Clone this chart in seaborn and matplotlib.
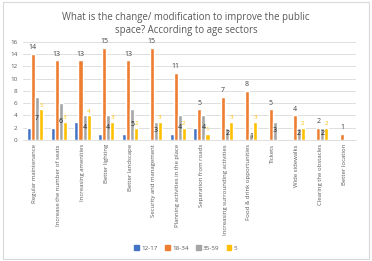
import pandas as pd
import seaborn as sns
import matplotlib.pyplot as plt
from matplotlib.patches import Rectangle

categories = [
    "Regular maintenance", "Increase the number of seats", "Increasing amenities",
    "Better lighting", "Better landscape", "Security and management",
    "Planning activities in the place", "Separation from roads",
    "Increasing surrounding activities", "Food & drink opportunities",
    "Tickets", "Wide sidewalks", "Clearing the obstacles", "Better location",
]
age_12_17 = [2, 2, 3, 1, 1, 0, 1, 2, 0, 0, 0, 0, 0, 0]
age_18_34 = [14, 13, 13, 15, 13, 15, 11, 5, 7, 8, 5, 4, 2, 1]
age_35_59 = [7, 6, 4, 4, 5, 3, 4, 4, 2, 1, 3, 2, 2, 0]
age_5 = [5, 3, 4, 3, 2, 3, 2, 1, 3, 3, 0, 2, 2, 0]
groups = ["12-17", "18-34", "35-59", "5"]
colors = ["#4472C4", "#ED7D31", "#A5A5A5", "#FFC000"]

rows = []
for g, vals in zip(groups, [age_12_17, age_18_34, age_35_59, age_5]):
    for c, v in zip(categories, vals):
        rows.append({"category": c, "group": g, "value": v})
df = pd.DataFrame(rows)

sns.set_style("white")
plt.rcParams['font.family'] = ['Open Sans', 'DejaVu Sans']

fig = plt.figure(figsize=(3.72, 2.61), dpi=100)
ax = fig.add_axes([0.062, 0.464, 0.895, 0.375])
sns.barplot(data=df, x="category", y="value", hue="group", order=categories,
            hue_order=groups, palette=colors, width=0.68, saturation=1,
            ax=ax, legend=False)

ax.set_ylim(0, 16)
ax.set_yticks(range(0, 17, 2))
ax.yaxis.grid(True, color="#D9D9D9", linewidth=0.6)
ax.set_axisbelow(True)
for s in ["top", "right", "left"]:
    ax.spines[s].set_visible(False)
ax.spines["bottom"].set_color("#D9D9D9")
ax.spines["bottom"].set_linewidth(0.6)
ax.set_xlabel("")
ax.set_ylabel("")
ax.tick_params(axis="y", labelsize=4.5, colors="#595959", length=0, pad=4)
ax.tick_params(axis="x", labelsize=4.3, colors="#595959", length=0, pad=3,
               labelrotation=90)

conts = ax.containers
ax.bar_label(conts[1], fontsize=5, color="#404040", padding=2)
ax.bar_label(conts[2], labels=[str(int(v)) if v > 0 else "" for v in age_35_59],
             label_type="center", fontsize=5, color="#262626")
ax.bar_label(conts[3], labels=[str(int(v)) if v > 0 else "" for v in age_5],
             fontsize=4.5, color="#FFC000", padding=1)

fig.text(0.5, 0.955, "What is the change/ modification to improve the public\nspace? According to age sectors",
         ha="center", va="top", fontsize=6.9, color="#595959", linespacing=1.3)

handles = [Rectangle((0, 0), 1, 1, color=c) for c in colors]
fig.legend(handles, groups, loc="center", bbox_to_anchor=(0.5, 0.05), ncol=4,
           frameon=False, fontsize=4.5, handlelength=0.7, handleheight=0.7,
           columnspacing=1.2, handletextpad=0.4, labelcolor="#595959")

fig.patches.append(Rectangle((0.008, 0.008), 0.984, 0.984, transform=fig.transFigure,
                             fill=False, edgecolor="#D9D9D9", linewidth=0.8))

fig.savefig("out.png", dpi=100)
